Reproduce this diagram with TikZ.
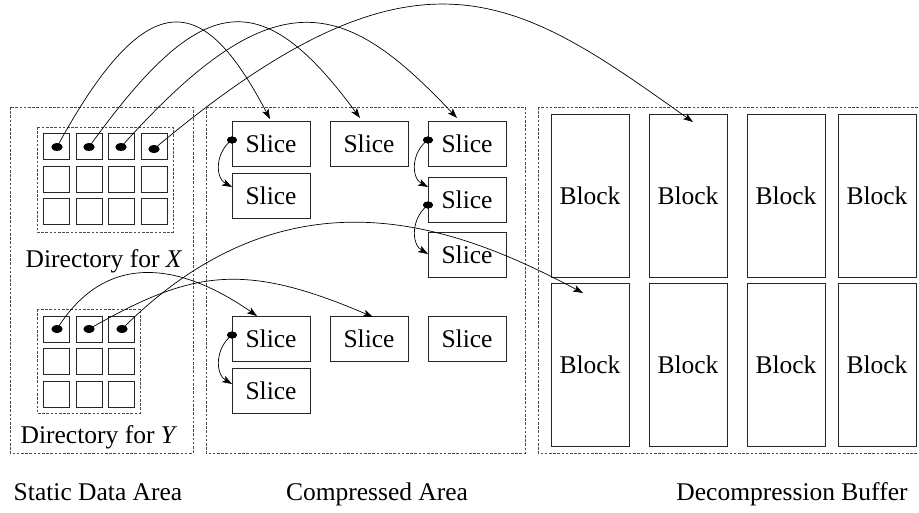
\documentclass[tikz,border=0pt]{standalone}
\usepackage{fontspec}
\setmainfont{Liberation Serif}
\usetikzlibrary{arrows.meta,shapes.geometric}
\begin{document}
\begin{tikzpicture}[x=1pt,y=-1pt,
  font=\fontsize{25.5}{30}\selectfont,
  zone/.style={draw=black!70, line width=0.8pt, dash pattern=on 2.6pt off 1.6pt},
  slicebox/.style={draw=black!85, line width=0.9pt, minimum width=78pt, minimum height=45pt, inner sep=0pt},
  blockbox/.style={draw=black!85, line width=0.9pt, minimum width=78pt, minimum height=163pt, inner sep=0pt},
  cellbox/.style={draw=black!85, line width=0.9pt, minimum size=26pt, inner sep=0pt},
  dotmark/.style={ellipse, fill=black, minimum width=11pt, minimum height=8pt, inner sep=0pt},
  link/.style={line width=0.7pt, -{Stealth[length=10pt,width=7pt,inset=2.5pt]}},
]
\useasboundingbox (0,0) rectangle (919,512);

% memory areas
\draw[zone] (10,107) rectangle (193,453);
\draw[zone] (206,107) rectangle (525,453);
\draw[zone] (538,107) rectangle (930,453);

% directory for X: 4 x 3 cells
\draw[zone] (37,127) rectangle (173,232);
\foreach \c/\x in {1/56,2/89,3/121,4/154}
  \foreach \r/\y in {1/146,2/179,3/211}
    \node[cellbox] (cx\c\r) at (\x,\y) {};
\node[anchor=base] (lblx) at (104,267) {Directory for \textit{X}};

% directory for Y: 3 x 3 cells
\draw[zone] (37,309) rectangle (140,413);
\foreach \c/\x in {1/56,2/89,3/121}
  \foreach \r/\y in {1/329,2/361.5,3/394}
    \node[cellbox] (cy\c\r) at (\x,\y) {};
\node[anchor=base] (lbly) at (99,443) {Directory for \textit{Y}};

% compressed slices
\node[slicebox] (a1) at (271,143.5) {Slice};
\node[slicebox] (a2) at (271,195.5) {Slice};
\node[slicebox] (b1) at (369,143.5) {Slice};
\node[slicebox] (c1) at (467,143.5) {Slice};
\node[slicebox] (c2) at (467,199.5) {Slice};
\node[slicebox] (c3) at (467,254.5) {Slice};
\node[slicebox] (d1) at (271,338.5) {Slice};
\node[slicebox] (d2) at (271,390.5) {Slice};
\node[slicebox] (e1) at (369,338.5) {Slice};
\node[slicebox] (f1) at (467,338.5) {Slice};

% decompression blocks
\foreach \c/\x in {1/590,2/688,3/786,4/877}
  \foreach \r/\y in {1/195.5,2/364.5}
    \node[blockbox] (blk\c\r) at (\x,\y) {Block};

% area captions
\node[anchor=base] (capstatic) at (98,500) {Static Data Area};
\node[anchor=base] (capcomp) at (377,500) {Compressed Area};
\node[anchor=base] (capdecomp) at (792,500) {Decompression Buffer};

% pointer origins
\node[dotmark] (dx1) at (57,147) {};
\node[dotmark] (dx2) at (89,147) {};
\node[dotmark] (dx3) at (121,147) {};
\node[dotmark] (dx4) at (154,149) {};
\node[dotmark] (dy1) at (57,329) {};
\node[dotmark] (dy2) at (89,329) {};
\node[dotmark] (dy3) at (122,329) {};
\node[dotmark, minimum width=10pt, minimum height=7pt] (sa1) at (232,140) {};
\node[dotmark, minimum width=10pt, minimum height=7pt] (sc1) at (428,140) {};
\node[dotmark, minimum width=10pt, minimum height=7pt] (sc2) at (428,205) {};
\node[dotmark, minimum width=10pt, minimum height=7pt] (sd1) at (232,335) {};

% pointer targets
\coordinate (ta1) at (270,119);
\coordinate (tb1) at (360,118);
\coordinate (tc1) at (457,118);
\coordinate (tblk) at (693,122);
\coordinate (td1) at (257,316);
\coordinate (te1) at (373,317);
\coordinate (tblk2) at (583,293);
\coordinate (ta2) at (232,187);
\coordinate (tc2) at (428,187);
\coordinate (tc3) at (428,254);
\coordinate (td2) at (232,384);

% directory pointers
\draw[link] (dx1.center) .. controls (152.5,-28.7) and (207.8,0.8) .. (ta1);
\draw[link] (dx2.center) .. controls (201,-8.7) and (260,-18) .. (tb1);
\draw[link] (dx3.center) .. controls (275.7,-26.3) and (345,-0.7) .. (tc1);
\draw[link] (dx4.center) .. controls (419,-74) and (517,-3) .. (tblk);
\draw[link] (dy1.center) .. controls (111,242.6) and (192,270.6) .. (td1);
\draw[link] (dy2.center) .. controls (191,271) and (242,260.7) .. (te1);
\draw[link] (dy3.center) .. controls (290,161) and (457,226) .. (tblk2);

% slice chains
\draw[link] (sa1.center) .. controls (215,152) and (215,178) .. (ta2);
\draw[link] (sc1.center) .. controls (411,152) and (411,178) .. (tc2);
\draw[link] (sc2.center) .. controls (411,218) and (411,244) .. (tc3);
\draw[link] (sd1.center) .. controls (215,348) and (215,374) .. (td2);

% redraw dots above the lines
\foreach \d in {dx1,dx2,dx3,dx4,dy1,dy2,dy3}
  \fill (\d.center) ellipse [x radius=5.5pt, y radius=4pt];
\foreach \d in {sa1,sc1,sc2,sd1}
  \fill (\d.center) ellipse [x radius=5pt, y radius=3.5pt];
\end{tikzpicture}
\end{document}
